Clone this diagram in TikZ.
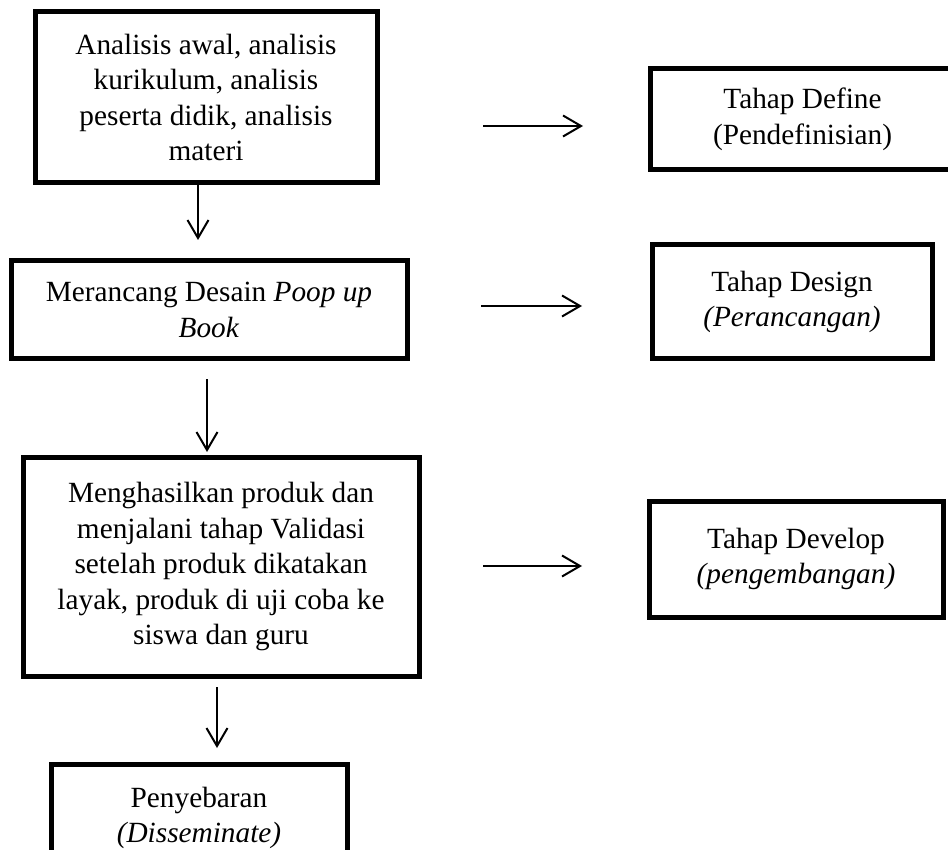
\documentclass[tikz,border=0pt]{standalone}
\usepackage{fontspec}
\setmainfont{Liberation Serif}
\usetikzlibrary{arrows.meta}
\newcommand{\boxfont}{\fontsize{29.3}{35.5}\selectfont}

\begin{document}
\begin{tikzpicture}[x=1pt, y=-1pt,
    stage/.style={draw, line width=5pt, inner sep=0pt, align=center, font=\boxfont},
    flow/.style={-{Straight Barb[length=18pt,width=21pt]}, line width=2pt}]

  \useasboundingbox (0,0) rectangle (948,850);

  %% --- Left column: activities ---
  \node[stage, minimum width=342pt, minimum height=171pt] (analisis) at (206,97.5)
    {Analisis awal, analisis\\kurikulum, analisis\\peserta didik, analisis\\materi};
  \node[stage, minimum width=396pt, minimum height=98pt] (rancang) at (209,310)
    {Merancang Desain \textit{Poop up}\\\textit{Book}};
  \node[stage, minimum width=396pt, minimum height=219pt] (produk) at (221,566.5)
    {Menghasilkan produk dan\\menjalani tahap Validasi\\setelah produk dikatakan\\layak, produk di uji coba ke\\siswa dan guru};
  \node[stage, minimum width=296pt, minimum height=108pt] (sebar) at (199,818)
    {Penyebaran\\\textit{(Disseminate)}};

  %% --- Right column: stages ---
  \node[stage, minimum width=305pt, minimum height=101pt] (define) at (802.5,119.5)
    {Tahap Define\\(Pendefinisian)};
  \node[stage, minimum width=280pt, minimum height=114pt] (design) at (792,302)
    {Tahap Design\\\textit{(Perancangan)}};
  \node[stage, minimum width=294pt, minimum height=116pt] (develop) at (796,559)
    {Tahap Develop\\\textit{(pengembangan)}};

  %% --- Arrow end points ---
  \coordinate (v1) at (198,240);
  \coordinate (v2s) at (207,379);
  \coordinate (v2) at (207,452);
  \coordinate (v3s) at (217,687);
  \coordinate (v3) at (217,748);
  \coordinate (h1s) at (483,126);
  \coordinate (h1) at (583,126);
  \coordinate (h2s) at (481,306);
  \coordinate (h2) at (582,306);
  \coordinate (h3s) at (483,566);
  \coordinate (h3) at (582,566);

  %% --- Vertical flow ---
  \draw[flow] (analisis.south -| v1) -- (v1);
  \draw[flow] (v2s) -- (v2);
  \draw[flow] (v3s) -- (v3);

  %% --- Horizontal arrows to stages ---
  \draw[flow] (h1s) -- (h1);
  \draw[flow] (h2s) -- (h2);
  \draw[flow] (h3s) -- (h3);
\end{tikzpicture}
\end{document}
